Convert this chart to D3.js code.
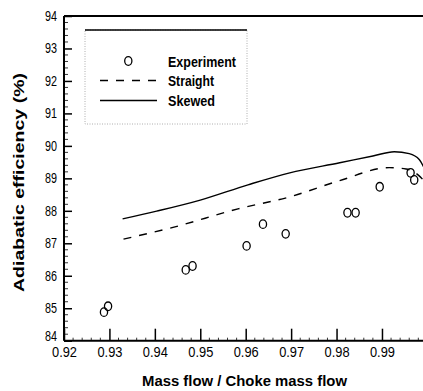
<!DOCTYPE html>
<html>
<head>
<meta charset="utf-8">
<script src="https://cdn.jsdelivr.net/npm/d3@7"></script>
<style>
  body { margin: 0; background: #fff; }
  svg { display: block; }
  text { font-family: "Liberation Sans", Arial, sans-serif; fill: #000; }
</style>
</head>
<body>
<div id="chart"></div>
<script>
// experiment points
const expX = [0.9288, 0.9297, 0.9468, 0.9483, 0.9602, 0.9638, 0.9688, 0.9824, 0.9842, 0.9895, 0.9963, 0.9971];
const expY = [84.88, 85.06, 86.18, 86.30, 86.92, 87.59, 87.29, 87.94, 87.94, 88.74, 89.17, 88.95];

// straight blade (dashed)
const straightX = [0.9331, 0.9440, 0.9583, 0.9697, 0.9807, 0.9916, 0.9953, 0.9980, 1.0];
const straightY = [87.13, 87.49, 88.06, 88.43, 88.93, 89.33, 89.29, 89.10, 88.80];

// skewed blade (solid)
const skewedX = [0.9329, 0.9404, 0.9500, 0.9605, 0.9697, 0.9807, 0.9880, 0.9927, 0.9960, 0.9982, 1.0];
const skewedY = [87.75, 87.99, 88.33, 88.80, 89.17, 89.48, 89.69, 89.82, 89.76, 89.58, 89.10];

const xTicks = [0.92, 0.93, 0.94, 0.95, 0.96, 0.97, 0.98, 0.99];
const yTicks = [84, 85, 86, 87, 88, 89, 90, 91, 92, 93, 94];
const legendLabels = ["Experiment", "Straight", "Skewed"];

const width = 423, height = 391;
const svg = d3.select("#chart").append("svg")
  .attr("width", width)
  .attr("height", height);

const x = d3.scaleLinear().domain([0.92, 1.0]).range([64, 427.4]);
const y = d3.scaleLinear().domain([84, 94]).range([340.7, 16]);

// minor ticks first so axes sit on top
const minorX = d3.range(0.92, 1.0001, 0.002).filter(v => Math.abs(v * 100 - Math.round(v * 100)) > 1e-6);
svg.append("g").selectAll("line").data(minorX).join("line")
  .attr("x1", d => x(d)).attr("x2", d => x(d))
  .attr("y1", y(84)).attr("y2", y(84) - 3)
  .attr("stroke", "#000").attr("stroke-width", 0.8);

const minorY = d3.range(84, 94.001, 0.2).filter(v => Math.abs(v - Math.round(v)) > 1e-6);
svg.append("g").selectAll("line").data(minorY).join("line")
  .attr("x1", x(0.92)).attr("x2", x(0.92) + 4)
  .attr("y1", d => y(d)).attr("y2", d => y(d))
  .attr("stroke", "#000").attr("stroke-width", 0.8);

const xAxis = svg.append("g")
  .attr("transform", `translate(0,${y(84)})`)
  .call(d3.axisBottom(x).tickValues(xTicks).tickSize(-12).tickPadding(6)
    .tickFormat(d3.format(".2f")));
xAxis.select(".domain").attr("stroke-width", 2).attr("d", `M${x(0.92)},0H${width}`);
xAxis.selectAll(".tick line").attr("stroke-width", 1.5);
xAxis.selectAll("text")
  .attr("font-size", 14)
  .attr("textLength", 25)
  .attr("lengthAdjust", "spacingAndGlyphs");

const yAxis = svg.append("g")
  .attr("transform", `translate(${x(0.92)},0)`)
  .call(d3.axisLeft(y).tickValues(yTicks).tickSize(-8).tickPadding(7));
yAxis.select(".domain").attr("stroke-width", 2).attr("d", `M0,${y(84)}V${y(94)}`);
yAxis.selectAll(".tick line").attr("stroke-width", 1.5);
yAxis.selectAll("text")
  .attr("font-size", 14)
  .attr("textLength", 12)
  .attr("lengthAdjust", "spacingAndGlyphs")
  .attr("dy", d => d === 84 ? "-0.05em" : "0.32em");

// top frame
svg.append("line")
  .attr("x1", x(0.92)).attr("x2", width)
  .attr("y1", y(94)).attr("y2", y(94))
  .attr("stroke", "#000").attr("stroke-width", 2);

// curves
const line = d3.line()
  .x(d => x(d[0])).y(d => y(d[1]))
  .curve(d3.curveMonotoneX);

svg.append("path")
  .datum(d3.zip(straightX, straightY))
  .attr("d", line)
  .attr("fill", "none").attr("stroke", "#000")
  .attr("stroke-width", 1.4).attr("stroke-dasharray", "8,8");

svg.append("path")
  .datum(d3.zip(skewedX, skewedY))
  .attr("d", line)
  .attr("fill", "none").attr("stroke", "#000")
  .attr("stroke-width", 1.4);

svg.append("g").selectAll("ellipse").data(d3.zip(expX, expY)).join("ellipse")
  .attr("cx", d => x(d[0])).attr("cy", d => y(d[1]))
  .attr("rx", 3.6).attr("ry", 4.3)
  .attr("fill", "none").attr("stroke", "#000").attr("stroke-width", 1.3);

// legend
const lg = svg.append("g");
lg.append("rect")
  .attr("x", 85).attr("y", 30).attr("width", 162).attr("height", 94)
  .attr("fill", "#fff").attr("stroke", "#999")
  .attr("stroke-width", 0.8).attr("stroke-dasharray", "1,1.5");
lg.append("line")
  .attr("x1", 85).attr("x2", 247).attr("y1", 30).attr("y2", 30)
  .attr("stroke", "#000").attr("stroke-width", 1.5);

const rowY = [61, 80.5, 100.5];
lg.append("ellipse").attr("cx", 128.3).attr("cy", rowY[0])
  .attr("rx", 3.6).attr("ry", 4.3)
  .attr("fill", "none").attr("stroke", "#000").attr("stroke-width", 1.3);
lg.append("line").attr("x1", 100).attr("x2", 158).attr("y1", rowY[1]).attr("y2", rowY[1])
  .attr("stroke", "#000").attr("stroke-width", 1.4).attr("stroke-dasharray", "8,8");
lg.append("line").attr("x1", 100).attr("x2", 157).attr("y1", rowY[2]).attr("y2", rowY[2])
  .attr("stroke", "#000").attr("stroke-width", 1.4);

const lens = [68, 46, 47];
lg.selectAll("text.lab").data(legendLabels).join("text")
  .attr("class", "lab")
  .attr("x", 168).attr("y", (d, i) => rowY[i] + 5.5)
  .attr("font-size", 15).attr("font-weight", "bold")
  .attr("textLength", (d, i) => lens[i])
  .attr("lengthAdjust", "spacingAndGlyphs")
  .text(d => d);

// axis titles
svg.append("text")
  .attr("x", 142).attr("y", 386)
  .attr("font-size", 15).attr("font-weight", "bold")
  .attr("textLength", 205).attr("lengthAdjust", "spacingAndGlyphs")
  .text("Mass flow / Choke mass flow");

svg.append("text")
  .attr("transform", "translate(24,292) rotate(-90)")
  .attr("font-size", 15).attr("font-weight", "bold")
  .attr("textLength", 219).attr("lengthAdjust", "spacingAndGlyphs")
  .text("Adiabatic efficiency (%)");
</script>
</body>
</html>
